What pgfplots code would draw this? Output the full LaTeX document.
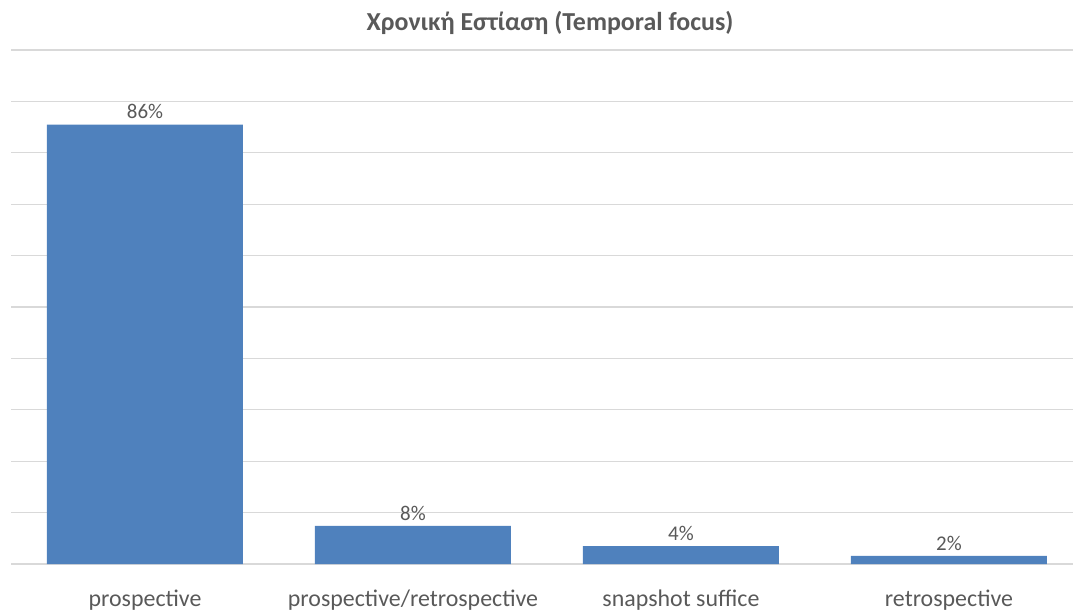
\documentclass[border=0pt]{standalone}
\usepackage{pgfplots}
\pgfplotsset{compat=1.18}
\usepackage{fontspec}
\setmainfont{Carlito}

\definecolor{barblue}{HTML}{4F81BD}
\definecolor{txtgray}{HTML}{595959}
\definecolor{gridgray}{HTML}{D9D9D9}

\begin{document}
\begin{tikzpicture}
% fixed canvas, same size as the reference
\path[use as bounding box] (0,0) rectangle (1073bp,610bp);

\node[font=\fontsize{26}{30}\selectfont\bfseries, text=txtgray] at (550bp,587bp)
  {Χρονική Εστίαση (Temporal focus)};

\begin{axis}[
    at={(11bp,46bp)}, anchor=south west,
    scale only axis,
    width=1062bp, height=514bp,
    xmin=-0.5, xmax=3.4627,
    ymin=0, ymax=100,
    ybar, bar width=196bp,
    axis line style={draw=none},
    ytick={0,10,...,100},
    yticklabels={},
    ymajorgrids,
    grid style={gridgray, line width=1.2bp},
    major tick length=0pt,
    xtick={0,1,2,3},
    xticklabels={prospective, prospective/retrospective, snapshot suffice, retrospective},
    xticklabel style={font=\fontsize{24}{28}\selectfont, text=txtgray, yshift=-22bp},
    nodes near coords,
    point meta=explicit symbolic,
    every node near coord/.append style={font=\fontsize{21}{24}\selectfont, text=txtgray, yshift=2bp},
    clip=false,
]
\addplot[fill=barblue, draw=none] coordinates {
    (0,85.5) [86\%]
    (1,7.4) [8\%]
    (2,3.5) [4\%]
    (3,1.6) [2\%]
};
\end{axis}
\end{tikzpicture}
\end{document}
